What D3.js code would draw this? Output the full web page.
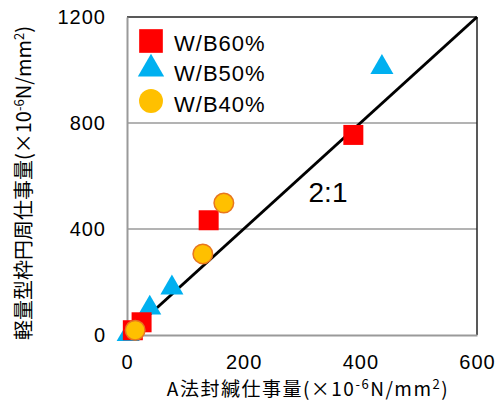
<!DOCTYPE html>
<html>
<head>
<meta charset="utf-8">
<script src="https://cdn.jsdelivr.net/npm/d3@7"></script>
<style>
  html, body { margin: 0; padding: 0; background: #fff; }
  svg { display: block; }
  text { font-family: "Liberation Sans", Arial, sans-serif; }
  .cjk { font-family: "Noto Sans CJK JP", "Liberation Sans", sans-serif; }
</style>
</head>
<body>
<svg id="chart" width="499" height="401"></svg>
<script>
// Series values: [A法封緘仕事量, 軽量型枠円周仕事量] in ×10^-6 N/mm²
const wb60 = [[10, 18], [25, 48], [140, 433], [388, 755]];
const wb50 = [[2, 2], [39, 102], [77, 178], [437, 1010]];
const wb40 = [[14, 18], [130, 306], [166, 498]];
const seriesNames = ["W/B60%", "W/B50%", "W/B40%"];
const xTicks = [0, 200, 400, 600];
const yTicks = [0, 400, 800, 1200];
const refLine = [[0, 0], [600, 1200]]; // 2:1 line

const svg = d3.select("#chart");
const plotL = 127, plotT = 17, plotR = 477, plotB = 335;

const x = d3.scaleLinear().domain([0, 600]).range([plotL, plotR]);
const y = d3.scaleLinear().domain([0, 1200]).range([plotB, plotT]);

// Grid lines
svg.append("g").selectAll("line").data([400, 800]).join("line")
  .attr("x1", plotL).attr("x2", plotR)
  .attr("y1", d => y(d)).attr("y2", d => y(d))
  .attr("stroke", "#9a9a9a").attr("stroke-width", 1.5);

// Frame: top/right dark, left/bottom gray axes
svg.append("line").attr("x1", plotL).attr("x2", plotR).attr("y1", plotT).attr("y2", plotT)
  .attr("stroke", "#222").attr("stroke-width", 1.5);
svg.append("line").attr("x1", plotR).attr("x2", plotR).attr("y1", plotT).attr("y2", plotB)
  .attr("stroke", "#222").attr("stroke-width", 1.5);

const xAxis = svg.append("g").attr("transform", `translate(0,${plotB})`)
  .call(d3.axisBottom(x).tickValues(xTicks).tickSize(0).tickPadding(20).tickFormat(d3.format("d")));
const yAxis = svg.append("g").attr("transform", `translate(${plotL},0)`)
  .call(d3.axisLeft(y).tickValues(yTicks).tickSize(0).tickPadding(21).tickFormat(d3.format("d")));
[xAxis, yAxis].forEach(g => {
  g.select(".domain").attr("stroke", "#9a9a9a").attr("stroke-width", 2);
  g.selectAll("text").attr("font-size", 20).attr("letter-spacing", 1).attr("fill", "#000")
    .attr("font-family", "Liberation Sans, Arial, sans-serif");
});

// 2:1 reference line
svg.append("line")
  .attr("x1", x(refLine[0][0])).attr("y1", y(refLine[0][1]))
  .attr("x2", x(refLine[1][0])).attr("y2", y(refLine[1][1]))
  .attr("stroke", "#000").attr("stroke-width", 3);

svg.append("text").attr("x", 328).attr("y", 202).attr("text-anchor", "middle")
  .attr("font-size", 28).attr("fill", "#000").text("2:1");

// Markers
const sym = {
  square: d3.symbol().type(d3.symbolSquare).size(400),
  triangle: d3.symbol().type(d3.symbolTriangle).size(230),
  circle: d3.symbol().type(d3.symbolCircle).size(300)
};
const styles = [
  { data: wb60, path: sym.square, fill: "#ff0000", stroke: "none", sw: 0 },
  { data: wb50, path: sym.triangle, fill: "#00b0f0", stroke: "none", sw: 0 },
  { data: wb40, path: sym.circle, fill: "#ffc000", stroke: "#e8761e", sw: 1.5 }
];
const drawOrder = [1, 0, 2];
drawOrder.forEach(i => {
  const s = styles[i];
  svg.append("g").selectAll("path").data(s.data).join("path")
    .attr("d", s.path)
    .attr("transform", d => `translate(${x(d[0])},${y(d[1])})`)
    .attr("fill", s.fill).attr("stroke", s.stroke).attr("stroke-width", s.sw);
});

// Legend
const legend = svg.append("g");
const legendY = [41, 69, 101];
const legendBase = [51, 81, 112];
styles.forEach((s, i) => {
  const cy = legendY[i];
  const path = i === 0 ? d3.symbol().type(d3.symbolSquare).size(560)
             : i === 1 ? d3.symbol().type(d3.symbolTriangle).size(300)
             : d3.symbol().type(d3.symbolCircle).size(450);
  legend.append("path").attr("d", path)
    .attr("transform", `translate(151,${cy})`)
    .attr("fill", s.fill).attr("stroke", i === 2 ? "none" : s.stroke);
  legend.append("text").attr("x", 174).attr("y", legendBase[i])
    .attr("font-size", 22).attr("letter-spacing", 1).attr("fill", "#000").text(seriesNames[i]);
});

// Axis titles
const xt = svg.append("text").attr("class", "cjk")
  .attr("x", 308).attr("y", 396).attr("text-anchor", "middle")
  .attr("font-size", 19).attr("letter-spacing", 1.5).attr("fill", "#000");
xt.append("tspan").text("A法封緘仕事量(×10");
xt.append("tspan").attr("dy", -7).attr("font-size", 13).text("-6");
xt.append("tspan").attr("dy", 7).text("N/mm");
xt.append("tspan").attr("dy", -7).attr("font-size", 13).text("2");
xt.append("tspan").attr("dy", 7).text(")");

const yt = svg.append("text").attr("class", "cjk")
  .attr("transform", "translate(31,183) rotate(-90)")
  .attr("text-anchor", "middle")
  .attr("font-size", 20).attr("fill", "#000");
yt.append("tspan").text("軽量型枠円周仕事量(×10");
yt.append("tspan").attr("dy", -7).attr("font-size", 13).text("-6");
yt.append("tspan").attr("dy", 7).text("N/mm");
yt.append("tspan").attr("dy", -7).attr("font-size", 13).text("2");
yt.append("tspan").attr("dy", 7).text(")");
</script>
</body>
</html>
